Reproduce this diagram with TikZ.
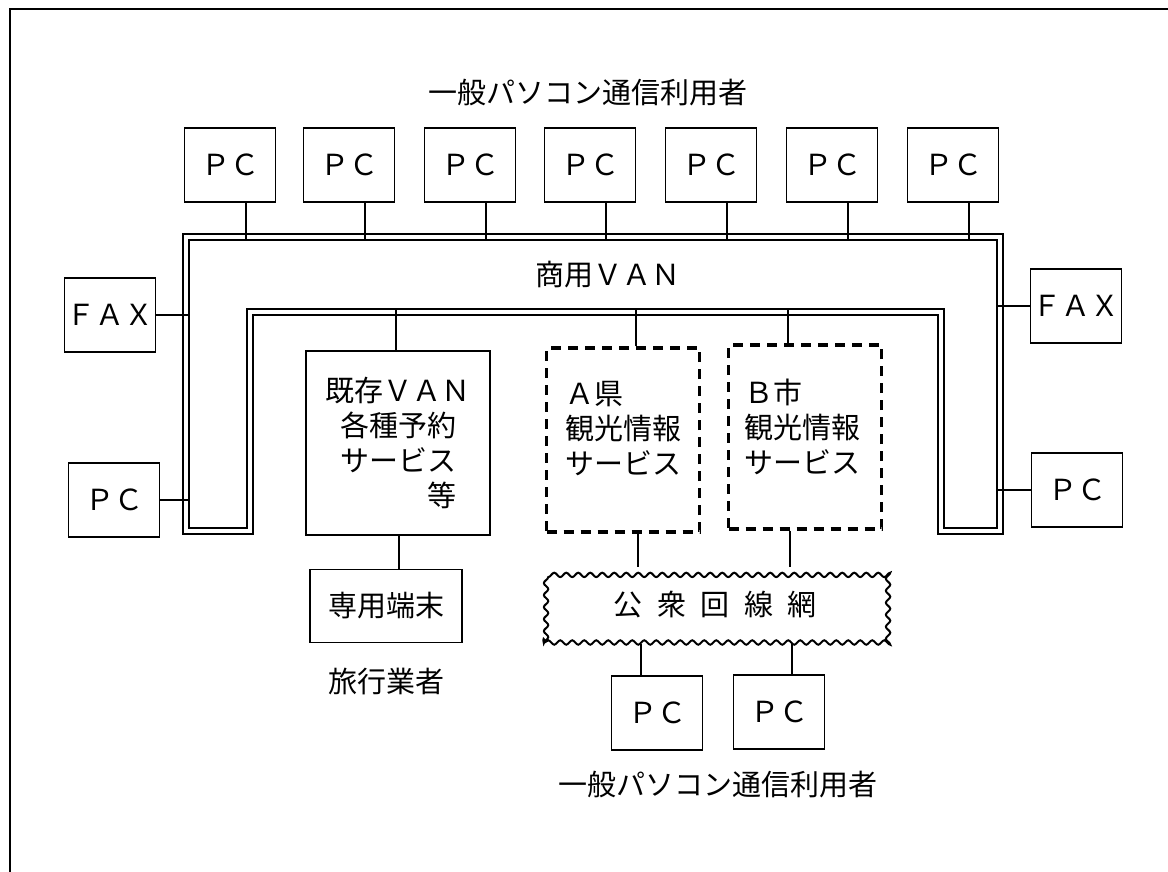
\documentclass[tikz,border=0pt]{standalone}
\usepackage{fontspec}
\setmainfont{Noto Sans CJK JP}
\usetikzlibrary{decorations.pathmorphing}
\begin{document}
\begin{tikzpicture}[x=0.5pt,y=-0.5pt,
  jp/.style={font=\fontsize{14.5pt}{17.5pt}\selectfont},
  box/.style={draw, line width=0.8pt, inner sep=0pt, jp},
  pcbox/.style={box, minimum width=45.5pt, minimum height=37pt},
  svcbox/.style={box, minimum width=92pt, minimum height=92pt},
  dbox/.style={draw, line width=1.6pt, dash pattern=on 5pt off 3.5pt, minimum width=76.5pt, minimum height=92pt, inner sep=0pt},
  wavybox/.style={draw, line width=1pt, decorate, decoration={snake, amplitude=1.1pt, segment length=6pt}, minimum width=170.5pt, minimum height=37.5pt, inner sep=0pt, jp},
  lbl/.style={jp, inner sep=0pt},
  link/.style={line width=0.75pt},
  boldlink/.style={line width=1.4pt},
  van/.style={draw, line width=0.8pt, double, double distance=2.4pt},
]
\useasboundingbox (0,0) rectangle (1168,872);
% frame
\draw[line width=0.9pt] (1168,9) -- (10,9) -- (10,872);

% top users
\node[lbl] (titleTop) at (588,93) {一般パソコン通信利用者};
\foreach \i/\x in {1/230,2/349,3/470,4/590,5/711,6/832,7/953}
  \node[pcbox] (pc\i) at (\x,165) {ＰＣ};

% commercial VAN band
\draw[van] (186,237) -- (1000,237) -- (1000,531) -- (941,531) -- (941,312)
  -- (250,312) -- (250,531) -- (186,531) -- cycle;
\node[lbl] (vanL) at (608,275) {商用ＶＡＮ};
\coordinate (bandTopIn) at (0,240);
\coordinate (bandLin) at (189,0);
\coordinate (bandRin) at (997,0);
\coordinate (openIn) at (0,309);

\foreach \i in {1,...,7}{
  \path ([xshift=8pt]pc\i.south) coordinate (t\i);
  \draw[link] (t\i) -- (t\i |- bandTopIn);
}

% side terminals
\node[pcbox] (faxL) at (110,315) {ＦＡＸ};
\node[pcbox] (pcL) at (114,500) {ＰＣ};
\node[pcbox] (faxR) at (1076,306) {ＦＡＸ};
\node[pcbox] (pcR) at (1077,490) {ＰＣ};
\draw[link] (faxL.east) -- (faxL.east -| bandLin);
\draw[boldlink] (pcL.east) -- (pcL.east -| bandLin);
\draw[link] (faxR.west) -- (faxR.west -| bandRin);
\draw[link] (pcR.west) -- (pcR.west -| bandRin);

% services
\node[svcbox, align=center] (kizon) at (398,443)
  {既存ＶＡＮ\\各種予約\\サービス\\\makebox[4em][r]{等}};
\node[dbox] (ken) at (623,440) {};
\node[lbl, align=left] (kenT) at (623,429) {Ａ県\\観光情報\\サービス};
\node[dbox] (shi) at (805,437) {};
\node[lbl, align=left] (shiT) at (802,427) {Ｂ市\\観光情報\\サービス};

\coordinate (k1) at (396,0);
\coordinate (k2) at (399,0);
\coordinate (a1) at (636,0);
\coordinate (a2) at (638,0);
\coordinate (b1) at (788,0);
\coordinate (b2) at (790,0);
\coordinate (p1) at (641,0);
\coordinate (p2) at (792,0);

\draw[link] (kizon.north -| k1) -- (openIn -| k1);
\draw[link] (ken.north -| a1) -- (openIn -| a1);
\draw[link] (shi.north -| b1) -- (openIn -| b1);

% dedicated terminal
\node[box, minimum width=76pt, minimum height=36.5pt] (senyo) at (386,606) {専用端末};
\draw[link] (kizon.south -| k2) -- (senyo.north -| k2);
\node[lbl] (ryoko) at (386,682) {旅行業者};

% public network
\node[wavybox] (koshu) at (715,605)
  {公\hspace{0.5em}衆\hspace{0.5em}回\hspace{0.5em}線\hspace{0.5em}網};
\draw[link] (ken.south -| a2) -- (koshu.north -| a2);
\draw[link] (shi.south -| b2) -- (koshu.north -| b2);

% bottom users
\node[pcbox] (pcB1) at (657,713) {ＰＣ};
\node[pcbox] (pcB2) at (779,712) {ＰＣ};
\draw[link] (koshu.south -| p1) -- (pcB1.north -| p1);
\draw[link] (koshu.south -| p2) -- (pcB2.north -| p2);
\node[lbl] (titleBot) at (718,785) {一般パソコン通信利用者};
\end{tikzpicture}
\end{document}
